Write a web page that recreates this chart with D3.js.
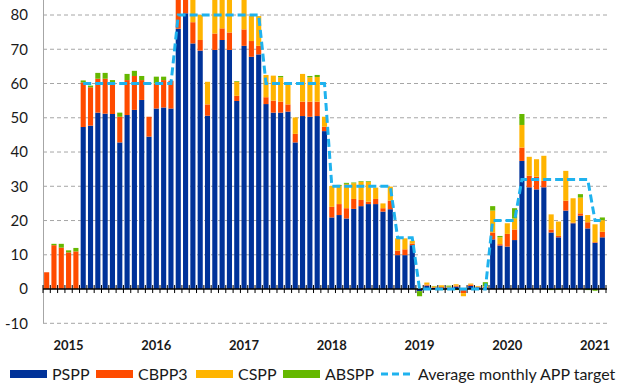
<!DOCTYPE html>
<html>
<head>
<meta charset="utf-8">
<script src="https://cdn.jsdelivr.net/npm/d3@7"></script>
<style>
  body { margin: 0; background: #fff; }
  svg { display: block; font-family: Lato, "Open Sans", sans-serif; }
</style>
</head>
<body>
<svg id="chart" width="620" height="384"></svg>
<script>
// monthly purchases, Oct 2014 - Feb 2021 (EUR bn)
const months = d3.timeMonth.range(new Date(2014, 9, 1), new Date(2021, 2, 1));
const yearLabels = ["2015", "2016", "2017", "2018", "2019", "2020", "2021"];
const yTicks = [-10, 0, 10, 20, 30, 40, 50, 60, 70, 80];

const pspp = [0, 0, 0, 0, 0, 47.3, 47.7, 51.5, 51.2, 51.1, 42.8, 50.8, 52.3, 55.2, 44.5,
  52.7, 53.0, 52.7, 76.0, 80.5, 71.7, 69.6, 50.6, 69.8, 72.7, 69.8, 54.9, 71.0, 67.8, 68.5,
  54.0, 51.5, 51.5, 51.8, 42.8, 50.5, 50.3, 50.5, 46.1, 20.9, 21.6, 20.6, 23.4, 24.2, 24.8,
  24.8, 22.6, 23.3, 9.9, 9.9, 12.8, -0.6, 1.0, 0.3, 0.2, 0.4, 0.7, -0.4, 0.9, 0.5, 0.3,
  14.5, 12.7, 12.4, 14.3, 37.4, 29.7, 29.1, 29.7, 16.5, 15.1, 22.9, 19.2, 21.4, 17.7, 13.5, 15.1];
const cbpp3 = [4.9, 12.8, 12.1, 10.7, 11.0, 13.0, 11.2, 9.9, 10.2, 8.9, 7.5, 10.2, 9.9, 5.8, 5.8,
  7.3, 8.0, 8.1, 9.0, 5.0, 6.2, 3.1, 3.3, 4.8, 3.4, 5.1, 1.5, 4.8, 4.6, 2.5,
  2.0, 3.5, 3.2, 2.1, 2.5, 4.2, 4.4, 4.2, 1.3, 3.1, 3.2, 3.0, 2.9, 1.8, 0.7,
  1.5, 1.0, 2.5, 1.3, 1.7, 0.5, 0.2, 0.3, 0.2, 0.4, 0.1, 0.3, -0.8, 0.4, 0.2, 0.3,
  2.0, 0.4, 3.7, 3.1, 3.9, 3.4, 3.7, 1.9, 0.9, 0.4, 2.9, 0.2, 0.7, 1.8, 0.2, 1.6];
const cspp = [0, 0, 0, 0, 0, 0, 0, 0, 0, 0, 0, 0, 0, 0, 0,
  0, 0, 0, 0, 0, 8.0, 7.3, 6.6, 11.0, 10.0, 10.0, 4.1, 10.0, 7.3, 8.7,
  6.5, 7.3, 7.1, 5.9, 4.8, 8.1, 7.1, 7.2, 2.9, 6.1, 5.3, 7.1, 4.6, 5.3, 5.8,
  3.3, 1.4, 4.1, 3.6, 3.2, 0.8, 0, 0.6, 0.3, 0.5, 0.2, 0.4, -0.9, 0.3, 0.2, 0.2,
  6.4, 2.0, 3.1, 3.2, 6.6, 5.5, 5.1, 7.3, 4.4, 4.2, 8.7, 7.1, 4.6, 2.1, 5.2, 3.4];
const abspp = [0, 0.4, 1.1, 0.6, 1.0, 0.6, 0.5, 1.7, 1.7, 1.0, 1.2, 1.8, 1.5, 1.2, 0,
  2.0, 1.0, 0, 0, 0, 0, 0, 0, 0, 0.5, 0.5, 0.2, 0, 0, 0,
  0, 0, 0.4, 0, 0, 0, 0.4, 0.6, 0, 0, 0.3, 0.3, 0.2, 0.2, 0.2,
  -0.2, 0, 0, 0, 0, 0, -1.5, 0, 0.1, -0.3, 0.3, -0.3, 0, 0, 0, 1.2,
  1.3, 0.4, 0, 3.0, 3.2, 0, 0, 0, -0.3, -0.2, 0, 0, 1.0, -0.3, -0.5, 0.8];
const target = [null, null, null, null, null, 60, 60, 60, 60, 60, 60, 60, 60, 60, 60,
  60, 60, 60, 80, 80, 80, 80, 80, 80, 80, 80, 80, 80, 80, 80,
  60, 60, 60, 60, 60, 60, 60, 60, 60, 30, 30, 30, 30, 30, 30,
  30, 30, 30, 15, 15, 15, 0, 0, 0, 0, 0, 0, 0, 0, 0, 0,
  20, 20, 20, 20, 32, 32, 32, 32, 32, 32, 32, 32, 32, 32, 20, 20];

const seriesNames = ["PSPP", "CBPP3", "CSPP", "ABSPP"];
const colors = ["#003299", "#ff4b00", "#ffb400", "#65b800"];
const lineColor = "#1fb2ee";

const rows = months.map((m, i) => ({
  i: i, PSPP: pspp[i], CBPP3: cbpp3[i], CSPP: cspp[i], ABSPP: abspp[i]
}));

const svg = d3.select("#chart");
const left = 43, right = 606;

const x = d3.scaleBand()
  .domain(d3.range(months.length))
  .range([left, right])
  .paddingInner(0.3)
  .paddingOuter(0.15);
const y = d3.scaleLinear().domain([-10, 80]).range([323.3, 15]);

// gridlines
svg.append("g").selectAll("line")
  .data(yTicks.filter(d => d !== 0))
  .join("line")
  .attr("x1", left).attr("x2", 607)
  .attr("y1", d => y(d)).attr("y2", d => y(d))
  .attr("stroke", "#a6a6a6")
  .attr("stroke-width", 1)
  .attr("stroke-dasharray", "4,3");

// y axis line
svg.append("line")
  .attr("x1", left + 0.5).attr("x2", left + 0.5)
  .attr("y1", 0).attr("y2", y(-10))
  .attr("stroke", "#a6a6a6");

// y labels
svg.append("g").selectAll("text")
  .data(yTicks)
  .join("text")
  .attr("x", 28)
  .attr("y", d => y(d))
  .attr("dy", "0.36em")
  .attr("text-anchor", "end")
  .style("font-size", "15px")
  .style("fill", "#1a1a1a")
  .text(d => d);

// bars
const stack = d3.stack().keys(seriesNames).offset(d3.stackOffsetDiverging);
const layers = stack(rows);

svg.append("g").selectAll("g")
  .data(layers)
  .join("g")
  .attr("fill", (d, i) => colors[i])
  .selectAll("rect")
  .data(d => d)
  .join("rect")
  .attr("x", d => x(d.data.i))
  .attr("width", x.bandwidth())
  .attr("y", d => y(Math.max(d[0], d[1])))
  .attr("height", d => Math.abs(y(d[0]) - y(d[1])));

// zero line with ticks at month boundaries
svg.append("line")
  .attr("x1", left).attr("x2", right + 1)
  .attr("y1", y(0)).attr("y2", y(0))
  .attr("stroke", "#000")
  .attr("stroke-width", 1.5);

const step = x.step();
svg.append("g").selectAll("line")
  .data(d3.range(months.length + 1))
  .join("line")
  .attr("x1", i => x(0) - (step - x.bandwidth()) / 2 + i * step)
  .attr("x2", i => x(0) - (step - x.bandwidth()) / 2 + i * step)
  .attr("y1", y(0) - 4).attr("y2", y(0) + 4)
  .attr("stroke", "#000")
  .attr("stroke-width", 1);

// target line
const line = d3.line()
  .defined(d => d != null)
  .x((d, i) => x(i) + x.bandwidth() / 2)
  .y(d => y(d));

svg.append("path")
  .datum(target)
  .attr("d", line)
  .attr("fill", "none")
  .attr("stroke", lineColor)
  .attr("stroke-width", 3)
  .attr("stroke-dasharray", "8,4");

// year labels under January bars
svg.append("g").selectAll("text")
  .data(yearLabels)
  .join("text")
  .attr("x", d => {
    const idx = months.findIndex(m => m.getFullYear() === +d && m.getMonth() === 0);
    return x(idx) + x.bandwidth() / 2;
  })
  .attr("y", 350)
  .attr("text-anchor", "middle")
  .style("font-size", "13px")
  .style("font-weight", "bold")
  .style("fill", "#1a1a1a")
  .text(d => d);

// legend
const legendX = [10, 96, 196, 283];
const legend = svg.append("g");
seriesNames.forEach((name, i) => {
  legend.append("rect")
    .attr("x", legendX[i]).attr("y", 370)
    .attr("width", 37).attr("height", 8)
    .attr("fill", colors[i]);
  legend.append("text")
    .attr("x", legendX[i] + 42).attr("y", 380)
    .style("font-size", "16px")
    .style("fill", "#1a1a1a")
    .text(name);
});
legend.append("line")
  .attr("x1", 381).attr("x2", 413)
  .attr("y1", 374).attr("y2", 374)
  .attr("stroke", lineColor)
  .attr("stroke-width", 3)
  .attr("stroke-dasharray", "7,4");
legend.append("text")
  .attr("x", 418).attr("y", 380)
  .style("font-size", "16px")
  .style("fill", "#1a1a1a")
  .text("Average monthly APP target");
</script>
</body>
</html>
